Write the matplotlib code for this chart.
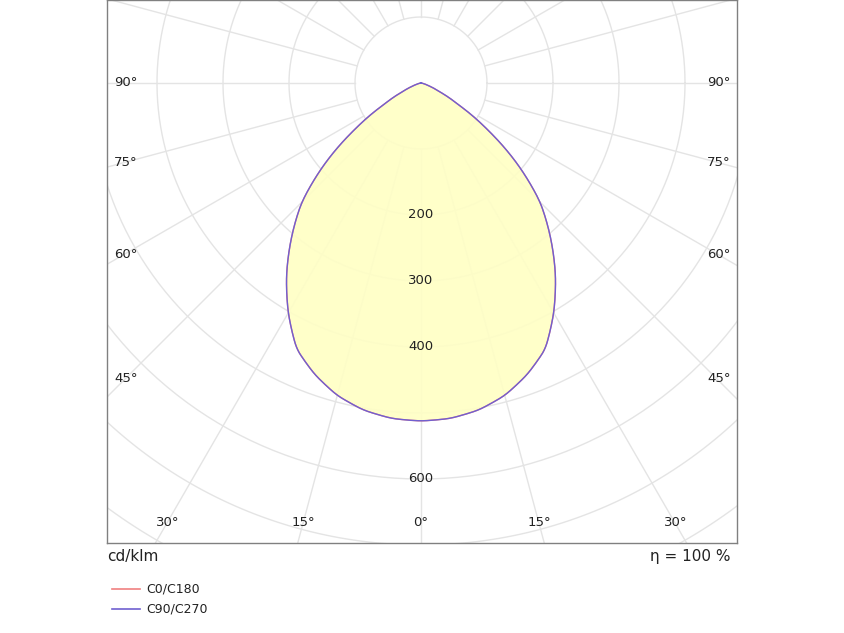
import numpy as np
import matplotlib
matplotlib.use("Agg")
import matplotlib.pyplot as plt

angles = [0, 5, 10, 15, 20, 25, 30, 35, 40, 45, 50, 55, 60, 65, 70, 75, 80, 85, 90]
c0_c180 = [512, 510, 503, 490, 470, 445, 402, 355, 305, 255, 190, 122, 64, 30, 13, 5, 2, 1, 0]
c90_c270 = [512, 510, 503, 490, 470, 445, 402, 355, 305, 255, 190, 122, 64, 30, 13, 5, 2, 1, 0]
ring_labels = [200, 300, 400, 600]
side_labels = ["90°", "75°", "60°", "45°"]
bottom_labels = ["30°", "15°", "0°", "15°", "30°"]

W, H = 844, 633
fig = plt.figure(figsize=(W/100, H/100), dpi=100)
ax = fig.add_axes([107/W, (H-543)/H, 630/W, 543/H])
s = 100/66.0  # cd per pixel
xmin, xmax = -314*s, 316*s
ymin, ymax = -460*s, 83*s
ax.set_xlim(xmin, xmax); ax.set_ylim(ymin, ymax)
ax.set_xticks([]); ax.set_yticks([])
for sp in ax.spines.values():
    sp.set_color('#808080'); sp.set_linewidth(1)

gc = '#e4e4e4'
t = np.linspace(0, 2*np.pi, 400)
for r in range(100, 1300, 100):
    ax.plot(r*np.cos(t), r*np.sin(t), color=gc, lw=1, zorder=1)
for a in range(0, 360, 15):
    th = np.radians(a)
    ax.plot([100*np.sin(th), 1500*np.sin(th)], [-100*np.cos(th), -1500*np.cos(th)], color=gc, lw=1, zorder=1)

def curve(vals):
    th = np.radians(np.array(angles, float))
    v = np.array(vals, float)
    th_full = np.concatenate([-th[::-1], th[1:]])
    v_full = np.concatenate([v[::-1], v[1:]])
    # smooth drawing between measured points
    tt = np.linspace(th_full[0], th_full[-1], 721)
    vv = np.interp(tt, th_full, v_full)
    k = np.ones(9)/9
    vv = np.convolve(np.pad(vv, 4, mode='edge'), k, mode='valid')
    return vv*np.sin(tt), -vv*np.cos(tt)

x0, y0 = curve(c0_c180)
x1, y1 = curve(c90_c270)
ax.fill(x1, y1, color='#ffffc4', alpha=0.9, zorder=2, lw=0)
ax.plot(x0, y0, color='#f08080', lw=1, zorder=3)
ax.plot(x1, y1, color='#7060d0', lw=1, zorder=4)

for r in ring_labels:
    ax.text(0, -r, str(r), ha='center', va='center', fontsize=9.5, color='#222222', zorder=5)

side_py = [83, 162, 254, 378]
for lab, py in zip(side_labels, side_py):
    fig.text(114/W, 1-py/H, lab, ha='left', va='center', fontsize=9.5, color='#222222')
    fig.text(731/W, 1-py/H, lab, ha='right', va='center', fontsize=9.5, color='#222222')
bottom_px = [168, 303, 421, 539, 676]
for lab, px in zip(bottom_labels, bottom_px):
    fig.text(px/W, 1-523/H, lab, ha='center', va='center', fontsize=9.5, color='#222222')

fig.text(107/W, 1-556/H, "cd/klm", ha='left', va='center', fontsize=11, color='#222222')
fig.text(730/W, 1-556/H, "η = 100 %", ha='right', va='center', fontsize=11, color='#222222')
fig.lines.append(matplotlib.lines.Line2D([112/W, 140/W], [1-589/H]*2, color='#f08080', lw=1.2, transform=fig.transFigure))
fig.lines.append(matplotlib.lines.Line2D([112/W, 140/W], [1-609/H]*2, color='#7060d0', lw=1.2, transform=fig.transFigure))
fig.text(146/W, 1-589/H, "C0/C180", ha='left', va='center', fontsize=9, color='#222222')
fig.text(146/W, 1-609/H, "C90/C270", ha='left', va='center', fontsize=9, color='#222222')

fig.savefig("out.png", dpi=100)
